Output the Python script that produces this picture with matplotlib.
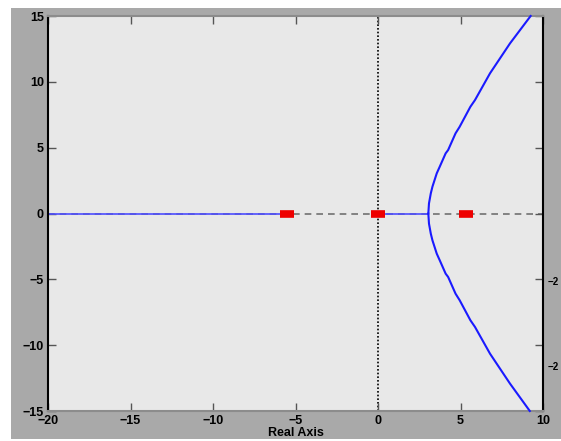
import matplotlib
matplotlib.use("Agg")
import matplotlib.pyplot as plt
from matplotlib.patches import Rectangle

# data
poles_re = [-5.5, 0.0, 5.33]
left_branch_x = [-20.0, -5.5]
mid_branch_x = [0.0, 3.05]
upper_x = [3.05, 3.09, 3.2, 3.3, 3.56, 3.74, 4.1, 4.25, 4.7, 4.95, 5.6, 5.88, 6.79, 8.0, 9.25]
upper_y = [0.0, 0.77, 1.53, 2.04, 3.05, 3.55, 4.57, 4.82, 6.09, 6.59, 8.11, 8.62, 10.65, 12.92, 15.0]
lower_x = [3.05, 3.09, 3.2, 3.3, 3.56, 3.74, 4.1, 4.25, 4.7, 4.95, 5.6, 5.88, 6.79, 8.0, 9.2]
lower_y = [0.0, -0.77, -1.53, -2.04, -3.05, -3.55, -4.57, -4.82, -6.09, -6.59, -8.11, -8.62, -10.65, -12.92, -15.0]
xticks = [-20, -15, -10, -5, 0, 5, 10]
yticks = [-15, -10, -5, 0, 5, 10, 15]

W, H = 561, 441
fig = plt.figure(figsize=(W / 100, H / 100), dpi=100, facecolor="white")
fig.patches.append(Rectangle((11 / W, 2 / H), 1 - 11 / W, 431 / H,
                             transform=fig.transFigure, facecolor="#a9a9a9",
                             edgecolor="none", zorder=-10))

ax = fig.add_axes([48 / W, 1 - 411 / H, (543 - 48) / W, (411 - 16) / H])
ax.set_facecolor("#e8e8e8")
ax.set_xlim(-20, 10)
ax.set_ylim(-15, 15)

ax.axhline(0, color="#707070", ls=(0, (4, 3)), lw=1.2, zorder=1)
ax.axvline(0, color="black", ls=(0, (1, 1.2)), lw=1.2, zorder=1)

blue = "#1a1aff"
ax.plot(left_branch_x, [0, 0], color="#4d4dff", lw=1.2, zorder=2)
ax.plot(mid_branch_x, [0, 0], color="#4d4dff", lw=1.2, zorder=2)
ax.plot(upper_x, upper_y, color=blue, lw=1.5, zorder=3, clip_on=False)
ax.plot(lower_x, lower_y, color=blue, lw=1.5, zorder=3, clip_on=False)
ax.plot(poles_re, [0] * len(poles_re), ls="none", marker="_", ms=10,
        mew=5.5, color="#ee0000", zorder=4)

ax.set_xticks(xticks)
ax.set_yticks(yticks)
ax.set_xticklabels([f"\u2212{abs(t)}" if t < 0 else str(t) for t in xticks])
ax.set_yticklabels([f"\u2212{abs(t)}" if t < 0 else str(t) for t in yticks])
ax.tick_params(direction="in", length=6, width=1, color="#555555",
               top=True, right=True, labelsize=9, pad=3)
for lab in ax.get_xticklabels() + ax.get_yticklabels():
    lab.set_fontweight("bold")
    lab.set_family("Liberation Sans")
ax.set_xlabel("Real Axis", fontsize=9, fontweight="bold",
              family="Liberation Sans", labelpad=0)

for s in ["left", "right"]:
    ax.spines[s].set_color("black")
    ax.spines[s].set_linewidth(1.5)
for s in ["top", "bottom"]:
    ax.spines[s].set_color("#8c8c8c")
    ax.spines[s].set_linewidth(1.5)

for yp in [282, 367]:
    fig.text(548 / W, 1 - yp / H, "\u22122", fontsize=7, fontweight="bold",
             family="Liberation Sans", va="center", ha="left")

fig.savefig("out.png", dpi=100, facecolor="white")
